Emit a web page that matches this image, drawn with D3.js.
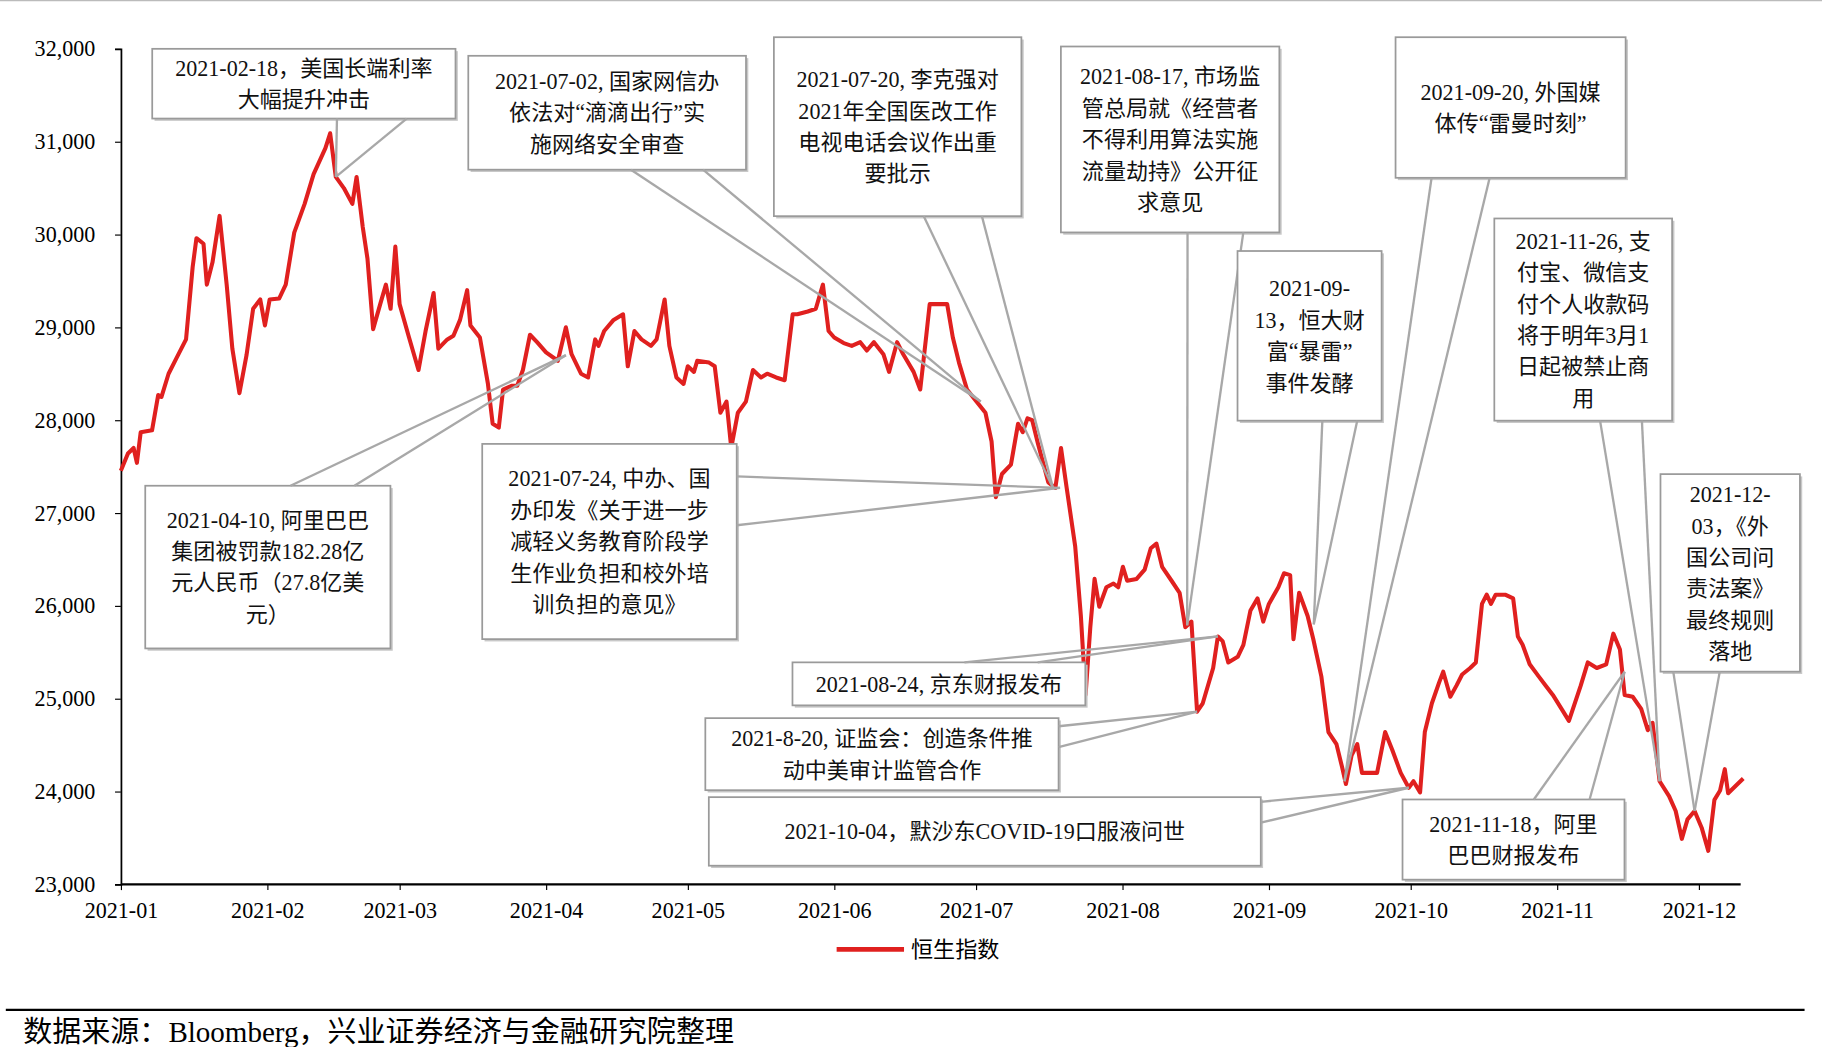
<!DOCTYPE html>
<html><head><meta charset="utf-8">
<script src="https://cdn.jsdelivr.net/npm/d3@7"></script>
<style>body{margin:0;background:#fff}svg{display:block}</style>
</head><body>
<svg id="c" width="1822" height="1047" viewBox="0 0 1568 901"></svg>
<script>
// days since 2021-01-01
const days=[0,1.5,2.7,3.4,4.2,6.6,7.9,8.6,10.1,11.8,13.8,15.2,16.0,17.5,18.2,19.4,20.9,22.4,23.6,25.1,26.6,28.0,29.5,30.5,31.5,33.5,34.9,36.7,38.9,40.8,43.3,44.3,45.5,47.2,49.0,49.9,51.2,52.2,53.4,54.9,56.1,57.1,58.1,59.0,61.0,63.0,64.5,66.2,67.2,69.1,70.4,71.8,73.3,74.0,76.0,77.7,78.7,80.0,80.9,82.7,83.9,85.1,86.6,88.1,90.0,92.5,94.2,95.4,97.4,98.9,100.4,101.1,102.3,104.3,106.3,107.3,108.7,110.2,112.2,113.4,115.1,116.1,117.6,119.1,120.0,121.3,122.0,124.5,125.7,126.9,128.2,129.2,130.6,132.3,133.8,135.5,136.8,138.7,140.5,142.2,143.2,145.4,147.1,148.6,149.8,151.0,153.0,154.7,156.5,157.9,159.4,161.4,162.6,164.3,165.6,167.8,169.2,170.5,171.2,172.7,174.9,176.1,177.4,179.1,181.1,183.0,184.3,185.2,186.5,188.4,189.9,190.9,191.9,192.9,194.1,196.3,197.8,199.0,200.2,202.0,203.2,204.2,205.2,206.1,207.1,208.6,210.1,211.1,212.1,213.0,215.0,216.7,218.0,219.2,220.4,222.4,224.1,225.3,226.6,227.8,229.0,231.2,232.2,233.2,234.4,236.4,237.6,239.1,240.6,241.8,243.0,245.0,246.2,247.5,248.2,249.4,251.2,252.4,254.1,255.6,257.3,258.5,259.3,260.5,261.7,262.7,264.7,265.9,267.6,269.1,270.9,272.6,273.6,275.0,276.0,277.5,279.0,279.9,281.4,282.7,283.9,285.6,286.8,288.1,289.1,290.0,291.0,293.0,294.7,295.7,296.7,298.2,300.1,301.6,303.1,305.3,306.5,309.0,310.5,312.4,314.4,315.9,317.3,318.3,320.0,321.8,323.2,324.2,325.7,327.7,329.1,330.4,331.6,333.1,334.6,336.0,337.3,338.5,339.5,340.2,342.2,343.4];
const hsi=[27455,27640,27700,27540,27870,27890,28270,28250,28500,28670,28870,29650,29960,29900,29460,29700,30200,29460,28770,28290,28700,29200,29300,29020,29300,29310,29460,30020,30330,30650,30930,31090,30620,30500,30330,30620,30080,29740,28980,29250,29460,29200,29870,29250,28890,28540,28960,29370,28770,28870,28910,29080,29400,29020,28890,28390,27960,27920,28330,28370,28370,28540,28920,28840,28730,28640,29000,28710,28500,28460,28870,28800,28960,29080,29140,28580,28960,28870,28800,28870,29300,28800,28460,28390,28580,28520,28640,28620,28580,28080,28200,27700,28080,28200,28540,28460,28500,28460,28430,29140,29140,29170,29200,29460,28960,28890,28830,28800,28840,28750,28840,28710,28520,28840,28710,28520,28330,28920,29250,29250,29250,28890,28620,28330,28200,28080,27770,27170,27420,27520,27960,27870,28020,28000,27750,27330,27270,27700,27270,26640,25890,25040,25770,26290,25990,26200,26240,26200,26420,26270,26290,26390,26620,26670,26420,26270,26140,25770,25830,24860,24950,25330,25670,25620,25390,25450,25580,25950,26080,25830,26020,26200,26350,26330,25640,26140,25890,25640,25240,24640,24510,24260,24080,24390,24510,24200,24200,24200,24640,24450,24200,24040,24110,23990,24640,24950,25170,25290,25020,25140,25260,25330,25390,26020,26120,26020,26120,26120,26080,25670,25580,25370,25240,25140,25040,24860,24760,25140,25390,25330,25370,25700,25530,25040,25020,24890,24660,24740,24110,23950,23790,23490,23700,23790,23610,23360,23910,24010,24240,23980,24080,24140];
const monthLabels=["2021-01","2021-02","2021-03","2021-04","2021-05","2021-06","2021-07","2021-08","2021-09","2021-10","2021-11","2021-12"];
const yTicks=[23000,24000,25000,26000,27000,28000,29000,30000,31000,32000];
const notes=[
 {lines:["2021-02-18，美国长端利率","大幅提升冲击"],day:45.5,val:30620},
 {lines:["2021-07-02, 国家网信办","依法对“滴滴出行”实","施网络安全审查"],day:182,val:28200},
 {lines:["2021-07-20, 李克强对","2021年全国医改工作","电视电话会议作出重","要批示"],day:197.3,val:27270},
 {lines:["2021-08-17, 市场监","管总局就《经营者","不得利用算法实施","流量劫持》公开征","求意见"],day:225.7,val:25790},
 {lines:["2021-09-20, 外国媒","体传“雷曼时刻”"],day:259,val:24110},
 {lines:["2021-09-","13，恒大财","富“暴雷”","事件发酵"],day:252.5,val:25800},
 {lines:["2021-11-26, 支","付宝、微信支","付个人收款码","将于明年3月1","日起被禁止商","用"],day:325.7,val:24110},
 {lines:["2021-12-","03，《外","国公司问","责法案》","最终规则","落地"],day:333.1,val:23790},
 {lines:["2021-04-10, 阿里巴巴","集团被罚款182.28亿","元人民币（27.8亿美","元）"],day:94.2,val:28700},
 {lines:["2021-07-24, 中办、国","办印发《关于进一步","减轻义务教育阶段学","生作业负担和校外培","训负担的意见》"],day:198.8,val:27270},
 {lines:["2021-08-24, 京东财报发布"],day:232.2,val:25670},
 {lines:["2021-8-20, 证监会：创造条件推","动中美审计监管合作"],day:227.8,val:24860},
 {lines:["2021-10-04，默沙东COVID-19口服液问世"],day:272.6,val:24040},
 {lines:["2021-11-18，阿里","巴巴财报发布"],day:318.3,val:25290}
];
const boxes=[
 {x:131,y:42,w:261,h:60,a:[290,102],b:[350,102]},
 {x:403,y:48,w:239,h:98,a:[543,146],b:[605,146]},
 {x:666,y:32,w:213,h:154,a:[795,186],b:[845,186]},
 {x:913,y:40,w:188,h:160,a:[1022,200],b:[1070,200]},
 {x:1201,y:32,w:198,h:121,a:[1232,153],b:[1282,153]},
 {x:1065,y:216,w:124,h:146,a:[1138,362],b:[1168,362]},
 {x:1286,y:188,w:153,h:174,a:[1377,362],b:[1413,362]},
 {x:1429,y:408,w:120,h:170,a:[1440,578],b:[1480,578]},
 {x:125,y:418,w:211,h:140,a:[250,418],b:[305,418]},
 {x:415,y:382,w:219,h:168,a:[634,410],b:[634,452]},
 {x:682,y:570,w:252,h:37,a:[830,570],b:[893,570]},
 {x:607,y:618,w:304,h:62,a:[911,625],b:[911,643]},
 {x:610,y:686,w:475,h:59,a:[1085,690],b:[1085,708]},
 {x:1207,y:688,w:191,h:69,a:[1320,688],b:[1368,688]}
];
const FONT='"Liberation Serif","Noto Sans CJK SC",serif';
const svg=d3.select("#c");
const t0=new Date(2021,0,1);
const toDate=d=>new Date(t0.getTime()+d*86400000);
const x=d3.scaleTime().domain([new Date(2021,0,1),new Date(2021,11,1)]).range([104,1462]);
const y=d3.scaleLinear().domain([23000,32000]).range([761,42]);
svg.append("line").attr("x1",0).attr("x2",1568).attr("y1",0.5).attr("y2",0.5).attr("stroke","#bbb");
const ya=svg.append("g").attr("transform","translate(104,0)").call(d3.axisLeft(y).tickValues(yTicks).tickFormat(d3.format(",")).tickSize(5));
ya.select(".domain").attr("stroke","#000").attr("stroke-width",1.5);
ya.selectAll("text").attr("font-family",FONT).attr("font-size",19).attr("fill","#000").attr("x",-22);
const mdates=monthLabels.map(s=>new Date(+s.slice(0,4),+s.slice(5)-1,1));
const xa=svg.append("g").attr("transform","translate(0,761)").call(d3.axisBottom(x).tickValues(mdates).tickFormat((d,i)=>monthLabels[i]).tickSize(5));
xa.select(".domain").attr("d","M104,0H1498").attr("stroke","#000").attr("stroke-width",2);
xa.selectAll("text").attr("font-family",FONT).attr("font-size",19).attr("fill","#000").attr("dy","1.1em");
const pts=days.map((d,i)=>({d:toDate(d),v:hsi[i]}));
svg.append("path").datum(pts).attr("fill","none").attr("stroke","#e0201f").attr("stroke-width",3.5).attr("stroke-linejoin","round")
 .attr("d",d3.line().x(p=>x(p.d)).y(p=>y(p.v)));
notes.forEach((n,i)=>{
 const b=boxes[i];const tx=x(toDate(n.day)),ty=y(n.val);
 const g=svg.append("g");
 g.append("rect").attr("x",b.x+2).attr("y",b.y+2).attr("width",b.w).attr("height",b.h).attr("fill","#c8c8c8");
 g.append("rect").attr("x",b.x).attr("y",b.y).attr("width",b.w).attr("height",b.h).attr("fill","#fff").attr("stroke","#9a9a9a").attr("stroke-width",1.5);
 [b.a,b.b].forEach(p=>g.append("line").attr("x1",p[0]).attr("y1",p[1]).attr("x2",tx).attr("y2",ty).attr("stroke","#a8a8a8").attr("stroke-width",2));
 const lh=27, n0=n.lines.length;
 const cy=b.y+b.h/2-(n0-1)*lh/2;
 n.lines.forEach((l,j)=>g.append("text").attr("x",b.x+b.w/2).attr("y",cy+j*lh).attr("dy","0.35em").attr("text-anchor","middle")
  .attr("font-family",FONT).attr("font-size",19).attr("fill","#111").text(l));
});
svg.append("line").attr("x1",720).attr("x2",778).attr("y1",817).attr("y2",817).attr("stroke","#e0201f").attr("stroke-width",4);
svg.append("text").attr("x",784).attr("y",817).attr("dy","0.35em").attr("font-family",FONT).attr("font-size",19).text("恒生指数");
svg.append("line").attr("x1",5).attr("x2",1553).attr("y1",869).attr("y2",869).attr("stroke","#000").attr("stroke-width",2);
svg.append("text").attr("x",20).attr("y",888).attr("dy","0.35em").attr("font-family",FONT).attr("font-size",25).text("数据来源：Bloomberg，兴业证券经济与金融研究院整理");
</script>
</body></html>
